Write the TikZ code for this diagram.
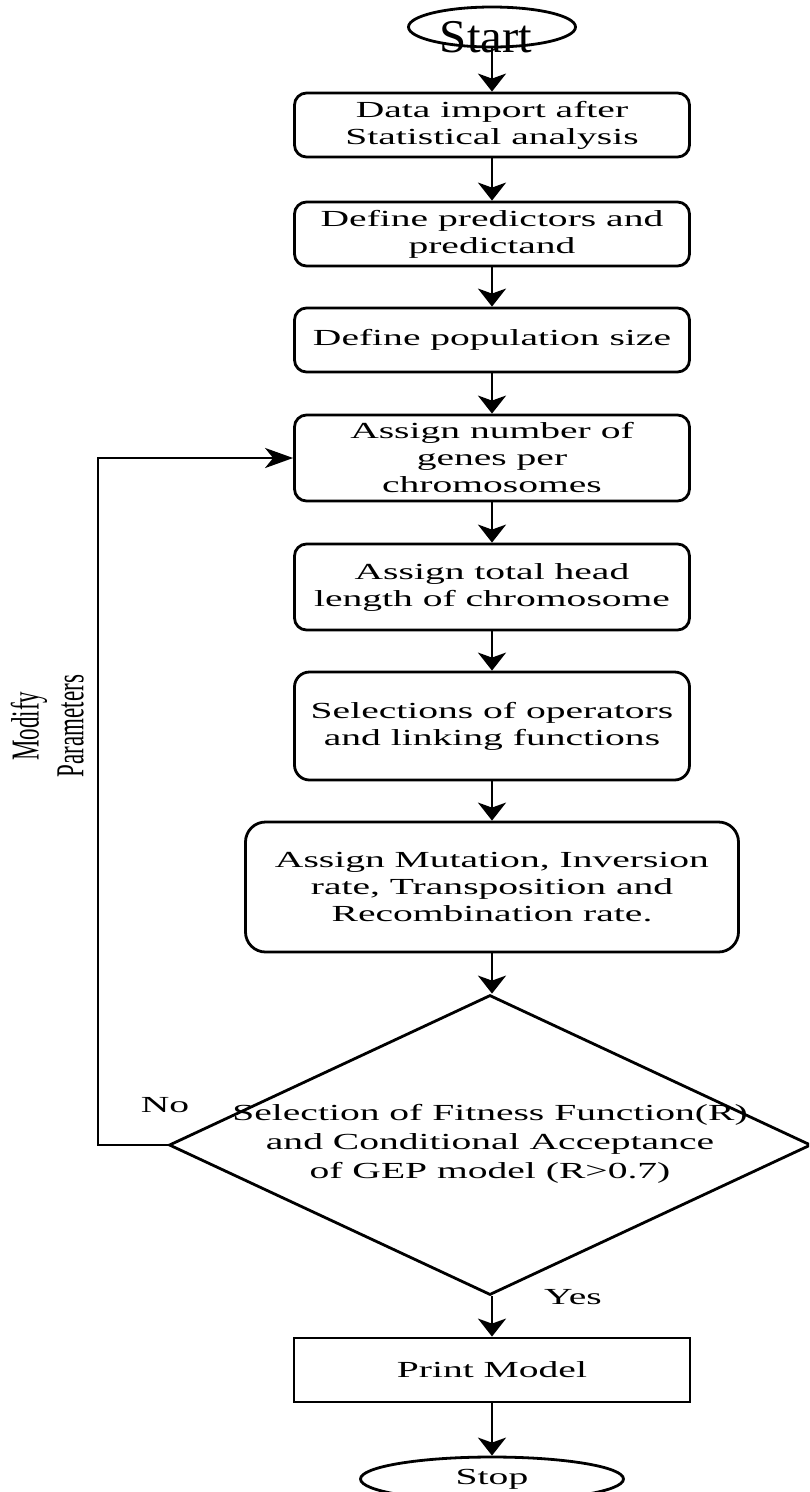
\documentclass[tikz,border=0pt]{standalone}
\usepackage{fontspec}
\setmainfont{Liberation Serif}
\newfontfamily\widef[FakeStretch=1.72]{Liberation Serif}
\newfontfamily\startf[FakeStretch=1.04]{Liberation Serif}
\newcommand\bodytext{\widef\fontsize{23pt}{27pt}\selectfont}
\usetikzlibrary{shapes.geometric,arrows.meta}
\begin{document}
\begin{tikzpicture}[x=1pt,y=-1pt,
  lw/.style={line width=2.8pt},
  box/.style={draw, lw, rounded corners=12pt, minimum width=395pt, inner sep=0pt, align=center, font=\bodytext},
  arr/.style={lw, -{Stealth[length=18pt,width=28pt,inset=5pt]}},
  harr/.style={lw, -{Stealth[length=28pt,width=20pt,inset=8pt]}},
  lbl/.style={font=\bodytext, inner sep=0pt}
]
\clip (0,0) rectangle (809,1492);
\fill[white] (0,0) rectangle (809,1492);

% terminals
\node[draw, lw, ellipse, minimum width=167pt, minimum height=40pt, inner sep=0pt] (start) at (492,27) {};
\node[anchor=base, inner sep=0pt, font=\startf\fontsize{47pt}{50pt}\selectfont] (startlbl) at (486,52) {Start};

% process boxes
\node[box, minimum height=64pt] (b1) at (492,125) {Data import after\\Statistical analysis};
\node[box, minimum height=64pt] (b2) at (492,234) {Define predictors and\\predictand};
\node[box, minimum height=64pt] (b3) at (492,340) {Define population size};
\node[box, minimum height=86pt] (b4) at (492,458) {Assign number of\\genes per\\chromosomes};
\node[box, minimum height=86pt] (b5) at (492,587) {Assign total head\\length of chromosome};
\node[box, minimum height=108pt, rounded corners=15pt] (b6) at (492,726) {Selections of operators\\and linking functions};
\node[box, minimum width=493pt, minimum height=130pt, rounded corners=20pt] (b7) at (492,887) {Assign Mutation, Inversion\\rate, Transposition and\\Recombination rate.};

% decision
\node[draw, lw, diamond, minimum width=642pt, minimum height=300pt, inner sep=0pt] (dec) at (490,1145) {};
\node[align=center, font=\widef\fontsize{23pt}{29pt}\selectfont, inner sep=0pt] (dectext) at (490,1144) {Selection of Fitness Function(R)\\and Conditional Acceptance\\of GEP model (R>0.7)};

% output and stop
\node[draw, lw, minimum width=396pt, minimum height=64pt, inner sep=0pt, font=\bodytext] (print) at (492,1370) {Print Model};
\node[draw, lw, ellipse, minimum width=263pt, minimum height=44pt, inner sep=0pt, font=\bodytext] (stop) at (492,1479) {Stop};

% connectors
\draw[arr] (start.south) -- (b1.north);
\draw[arr] (b1.south) -- (b2.north);
\draw[arr] (b2.south) -- (b3.north);
\draw[arr] (b3.south) -- (b4.north);
\draw[arr] (b4.south) -- (b5.north);
\draw[arr] (b5.south) -- (b6.north);
\draw[arr] (b6.south) -- (b7.north);
\draw[arr] (b7.south) -- (b7.south |- dec.north);
\draw[arr] (dec.south -| print.north) -- (print.north);
\draw[arr] (print.south) -- (stop.north);

\coordinate (loopc) at (98,1145);
\draw[harr] (dec.west) -- (loopc) |- (b4.west);

% labels
\node[lbl] (nolbl) at (165,1105) {No};
\node[lbl] (yeslbl) at (573,1297) {Yes};
\node[rotate=90, inner sep=0pt] (modlbl) at (52,726) {\scalebox{1}[1.72]{\fontsize{23pt}{26pt}\selectfont\begin{tabular}{@{}c@{}}Modify\\Parameters\end{tabular}}};
\end{tikzpicture}
\end{document}
